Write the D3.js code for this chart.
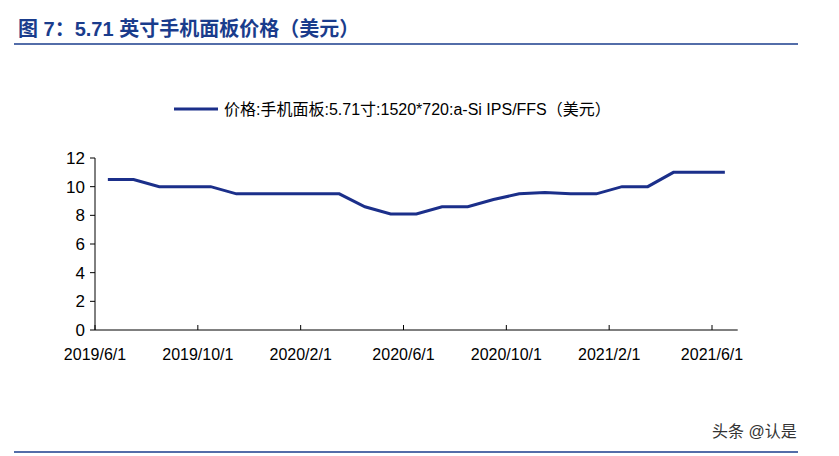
<!DOCTYPE html><html><head><meta charset="utf-8">
<script src="https://cdn.jsdelivr.net/npm/d3@7"></script>
<style>body{margin:0;background:#fff}text{font-family:Arial,"Liberation Sans","Noto Sans CJK SC",sans-serif}</style></head><body>
<svg id="c" width="839" height="456"></svg>
<script>
const months=["2019/6","2019/7","2019/8","2019/9","2019/10","2019/11","2019/12","2020/1","2020/2","2020/3","2020/4","2020/5","2020/6","2020/7","2020/8","2020/9","2020/10","2020/11","2020/12","2021/1","2021/2","2021/3","2021/4","2021/5","2021/6"];
const prices=[10.5,10.5,10,10,10,9.5,9.5,9.5,9.5,9.5,8.6,8.1,8.1,8.6,8.6,9.1,9.5,9.6,9.5,9.5,10,10,11,11,11];
const tickLabels=["2019/6/1","2019/10/1","2020/2/1","2020/6/1","2020/10/1","2021/2/1","2021/6/1"];
const yTicks=[0,2,4,6,8,10,12];
const svg=d3.select("#c");
const blue="#1b2f8a";
svg.append("text").attr("x",18).attr("y",36).attr("fill","#1a3c8c").attr("font-size",20).attr("font-weight","bold").text("图 7：5.71 英寸手机面板价格（美元）");
svg.append("line").attr("x1",14).attr("x2",798).attr("y1",44).attr("y2",44).attr("stroke","#1a3c8c").attr("stroke-width",1.5);
svg.append("line").attr("x1",14).attr("x2",798).attr("y1",452).attr("y2",452).attr("stroke","#1a3c8c").attr("stroke-width",1.5);
const x0=95,step=(712-95)/24;
const x=d3.scaleLinear().domain([0,24]).range([x0+step/2,x0+step/2+24*step]);
const y=d3.scaleLinear().domain([0,12]).range([330,158]);
const xb=d3.scaleLinear().domain([0,25]).range([x0,x0+25*step]);
const g=svg.append("g");
g.append("line").attr("x1",x0).attr("x2",x0).attr("y1",158).attr("y2",330).attr("stroke","#000");
g.append("line").attr("x1",x0).attr("x2",xb(25)).attr("y1",330).attr("y2",330).attr("stroke","#000");
yTicks.forEach(t=>{g.append("line").attr("x1",x0-5).attr("x2",x0).attr("y1",y(t)).attr("y2",y(t)).attr("stroke","#000");
g.append("text").attr("x",x0-10).attr("y",y(t)+6).attr("text-anchor","end").attr("font-size",17).text(t);});
tickLabels.forEach((t,i)=>{const xx=xb(i*4);g.append("line").attr("x1",xx).attr("x2",xx).attr("y1",325).attr("y2",330).attr("stroke","#000");
g.append("text").attr("x",xx).attr("y",360).attr("text-anchor","middle").attr("font-size",16).text(t);});
g.append("path").datum(prices).attr("fill","none").attr("stroke",blue).attr("stroke-width",3)
.attr("d",d3.line().x((d,i)=>x(i)).y(d=>y(d)));
svg.append("line").attr("x1",174).attr("x2",218).attr("y1",109).attr("y2",109).attr("stroke",blue).attr("stroke-width",3);
svg.append("text").attr("x",224).attr("y",115).attr("font-size",16).text("价格:手机面板:5.71寸:1520*720:a-Si IPS/FFS（美元）");
svg.append("text").attr("x",712).attr("y",437).attr("font-size",16).attr("fill","#333").text("头条 @认是");
</script></body></html>
